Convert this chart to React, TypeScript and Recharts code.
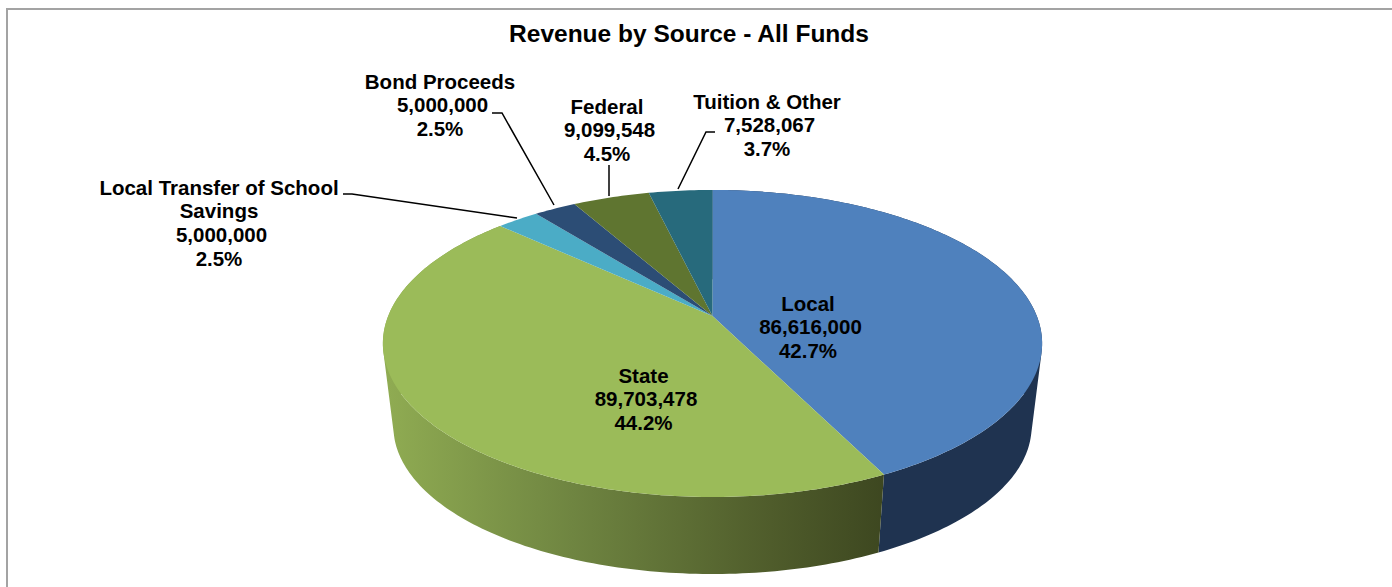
import React from "react";
import { PieChart, Pie } from "recharts";

const categories = ["Local", "State", "Local Transfer of School Savings", "Bond Proceeds", "Federal", "Tuition & Other"];
const revenue = [86616000, 89703478, 5000000, 5000000, 9099548, 7528067];
const topColors = ["#4f81bd", "#9bbb59", "#4bacc6", "#2c4d75", "#5f7530", "#276a7c"];
const nameLines = [["Local"], ["State"], ["Local Transfer of School", "Savings"], ["Bond Proceeds"], ["Federal"], ["Tuition & Other"]];

const rows = categories.map((name, i) => ({ name, value: revenue[i], fill: topColors[i] }));

// Perspective of the tilted disc
const CX = 712.5, CY = 316, R = 324.3, TILT = 148.6, K = 0.179;
const BOTTOM_SCALE_X = 0.968, BOTTOM_SCALE_Y = 0.96, BOTTOM_SHIFT = 96.9;

type Pt = { x: number; y: number };

const project = (angleDeg: number): Pt => {
  const a = ((90 - angleDeg) * Math.PI) / 180;
  const u = Math.sin(a);
  const v = -Math.cos(a);
  const d = 1 - K * v;
  return { x: CX + (R * u) / d, y: CY + (TILT * v) / d };
};

const sample = (from: number, to: number): Pt[] => {
  const n = Math.max(2, Math.ceil(Math.abs(to - from)));
  return Array.from({ length: n + 1 }, (_, i) => project(from + ((to - from) * i) / n));
};

const lowerRim = (p: Pt): Pt => ({
  x: CX + (p.x - CX) * BOTTOM_SCALE_X,
  y: p.y * BOTTOM_SCALE_Y + BOTTOM_SHIFT,
});

const toPath = (pts: Pt[]) =>
  pts.map((p, i) => `${i ? "L" : "M"}${p.x.toFixed(2)} ${p.y.toFixed(2)}`).join(" ");

// The side wall as a run of quads, all wound the same way, so that their union fills
const wallPath = (rim: Pt[]) => {
  const parts: string[] = [];
  for (let i = 0; i < rim.length - 1; i++) {
    const quad = [rim[i], rim[i + 1], lowerRim(rim[i + 1]), lowerRim(rim[i])];
    let area = 0;
    quad.forEach((p, j) => {
      const q = quad[(j + 1) % 4];
      area += p.x * q.y - q.x * p.y;
    });
    parts.push(toPath(area < 0 ? quad.reverse() : quad) + " Z");
  }
  return parts.join(" ");
};

const DiscSlice = (props: any) => {
  const { startAngle, endAngle, fill, index } = props;
  const rim = sample(startAngle, endAngle);
  return (
    <g>
      {index === 0 && <path d={wallPath(rim)} fill="#1f3350" />}
      {index === 1 && (
        <>
          <linearGradient id="stateWall" gradientUnits="userSpaceOnUse" x1={388} y1={0} x2={885} y2={0}>
            <stop offset="0" stopColor="#8fab52" />
            <stop offset="0.37" stopColor="#6f8541" />
            <stop offset="0.77" stopColor="#4f5c2b" />
            <stop offset="1" stopColor="#3d4720" />
          </linearGradient>
          <path d={wallPath(rim)} fill="url(#stateWall)" />
        </>
      )}
      <path d={`M${CX} ${CY} ` + toPath(rim).replace("M", "L") + " Z"} fill={fill} />
    </g>
  );
};

// Where each label's text sits, and its leader line
const labelSpots: { x: number; y: number; leader?: number[][] }[] = [
  { x: 808, y: 304 },
  { x: 643.5, y: 376 },
  { x: 219, y: 188, leader: [[343, 194], [352, 194], [517, 218]] },
  { x: 440, y: 82, leader: [[492, 113], [502, 113], [554, 205]] },
  { x: 607, y: 107, leader: [[609, 165], [609, 196]] },
  { x: 767, y: 102, leader: [[715, 132], [706, 132], [678, 189]] },
];

const total = revenue.reduce((a, b) => a + b, 0);

const SliceLabel = (props: any) => {
  const { index } = props;
  const spot = labelSpots[index];
  const names = nameLines[index];
  const lines = [
    ...names,
    revenue[index].toLocaleString("en-US"),
    ((revenue[index] / total) * 100).toFixed(1) + "%",
  ];
  return (
    <g>
      {spot.leader && (
        <polyline
          points={spot.leader.map((p) => p.join(",")).join(" ")}
          fill="none"
          stroke="#000"
          strokeWidth={1.5}
        />
      )}
      <text
        textAnchor="middle"
        fontFamily="Liberation Sans"
        fontWeight="bold"
        fontSize={20.5}
        fill="#000"
        stroke="none"
      >
        {lines.map((t, i) => (
          <tspan key={i} x={spot.x + (i === names.length ? 2.5 : 0)} y={spot.y + 6.5 + i * 23.9}>
            {t}
          </tspan>
        ))}
      </text>
    </g>
  );
};

export default function App() {
  return (
    <div style={{ position: "fixed", left: 0, top: 0, width: 1392, height: 587, overflow: "hidden", background: "#fff" }}>
      <div
        style={{
          position: "absolute",
          left: 6,
          top: 8,
          width: 1500,
          height: 700,
          border: "2px solid #a3a3a3",
          boxSizing: "border-box",
        }}
      />
      <div
        style={{
          position: "absolute",
          left: 0,
          top: 20,
          width: 1378,
          textAlign: "center",
          fontFamily: "Liberation Sans",
          fontWeight: "bold",
          fontSize: 24.5,
          lineHeight: "28px",
          color: "#000",
        }}
      >
        Revenue by Source - All Funds
      </div>
      <div style={{ position: "absolute", left: 0, top: 0 }}>
        <PieChart width={1392} height={587} margin={{ top: 0, right: 0, bottom: 0, left: 0 }}>
          <Pie
            data={rows}
            dataKey="value"
            nameKey="name"
            cx={CX}
            cy={CY}
            outerRadius={R}
            startAngle={90}
            endAngle={-270}
            stroke="none"
            paddingAngle={0}
            shape={DiscSlice}
            label={SliceLabel}
            labelLine={false}
            isAnimationActive={false}
          />
        </PieChart>
      </div>
    </div>
  );
}
